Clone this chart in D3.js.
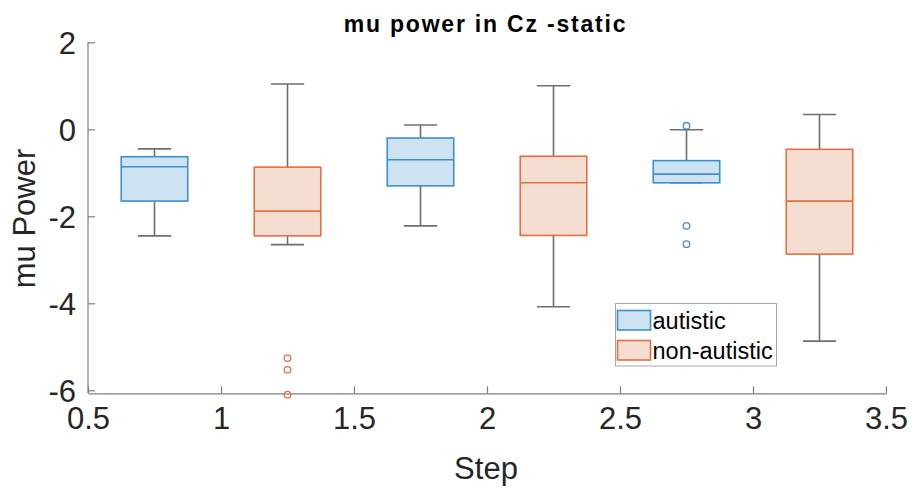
<!DOCTYPE html>
<html>
<head>
<meta charset="utf-8">
<script src="https://cdn.jsdelivr.net/npm/d3@7"></script>
<style>
  body { margin: 0; background: #fff; }
  svg { display: block; font-family: "Liberation Sans", Arial, sans-serif; }
</style>
</head>
<body>
<svg id="chart" width="914" height="493"></svg>
<script>
// ---- data ----
const steps = [1, 2, 3];
const groups = ["autistic", "non-autistic"];
// [lowerWhisker, Q1, median, Q3, upperWhisker] per step
const autisticStats = [
  [-2.45, -1.65, -0.86, -0.63, -0.45],
  [-2.22, -1.30, -0.70, -0.20, 0.10],
  [-1.23, -1.23, -1.03, -0.72, -0.01]
];
const nonAutisticStats = [
  [-2.65, -2.45, -1.88, -0.87, 1.04],
  [-4.08, -2.44, -1.23, -0.62, 1.00],
  [-4.87, -2.87, -1.65, -0.46, 0.34]
];
const autisticOutliers = [[], [], [0.08, -2.22, -2.64]];
const nonAutisticOutliers = [[-5.26, -5.53, -6.10], [], []];
const xTicks = [0.5, 1, 1.5, 2, 2.5, 3, 3.5];
const yTicks = [-6, -4, -2, 0, 2];
const titleText = "mu power in Cz -static";
const xLabel = "Step";
const yLabel = "mu Power";

// ---- layout / style ----
const colors = {
  "autistic": { edge: "#3b90d0", fill: "#cde3f1" },
  "non-autistic": { edge: "#e2703f", fill: "#f6ddd2" }
};
const groupOffset = { "autistic": -0.25, "non-autistic": 0.25 };
const boxWidth = 0.25;

const svg = d3.select("#chart");
const x = d3.scaleLinear().domain([0.5, 3.5]).range([88, 886]);
const y = d3.scaleLinear().domain([-6, 2]).range([390.3, 42.3]);
const yBottom = y.invert(393.3);

// axes
const xAxis = d3.axisBottom(x).tickValues(xTicks).tickSizeInner(-7).tickSizeOuter(0)
  .tickPadding(14).tickFormat(d => String(d));
const gx = svg.append("g").attr("transform", `translate(0,${y(yBottom)})`).call(xAxis);
const yAxis = d3.axisLeft(y).tickValues(yTicks).tickSizeInner(-7).tickSizeOuter(0)
  .tickPadding(12).tickFormat(d => String(d).replace("\u2212", "-"));
const gy = svg.append("g").attr("transform", `translate(${x(0.5)},0)`).call(yAxis);
gy.select(".domain").attr("d", `M0,${y(yBottom)}V${y(2)}`);
[gx, gy].forEach(g => {
  g.select(".domain").attr("stroke", "#7f7f7f").attr("stroke-width", 1.2);
  g.selectAll(".tick line").attr("stroke", "#7f7f7f").attr("stroke-width", 1.2);
  g.selectAll(".tick text").attr("fill", "#262626").style("font-size", "31px")
    .style("font-family", "'Liberation Sans', Arial, sans-serif");
});
gy.selectAll(".tick text").attr("dy", "0.36em");
gx.selectAll(".tick text").attr("dy", "0.71em");

// boxes
const series = [
  { name: "autistic", stats: autisticStats, outliers: autisticOutliers },
  { name: "non-autistic", stats: nonAutisticStats, outliers: nonAutisticOutliers }
];
const plot = svg.append("g");
series.forEach(s => {
  const c = colors[s.name];
  steps.forEach((st, i) => {
    const [lw, q1, med, q3, uw] = s.stats[i];
    const pos = st + groupOffset[s.name];
    const g = plot.append("g");
    const xl = x(pos - boxWidth / 2), xr = x(pos + boxWidth / 2);
    const cl = x(pos - boxWidth / 4), cr = x(pos + boxWidth / 4);
    // whiskers
    g.append("line").attr("x1", x(pos)).attr("x2", x(pos)).attr("y1", y(q3)).attr("y2", y(uw))
      .attr("stroke", "#6f6f6f").attr("stroke-width", 1.6);
    g.append("line").attr("x1", x(pos)).attr("x2", x(pos)).attr("y1", y(q1)).attr("y2", y(lw))
      .attr("stroke", "#6f6f6f").attr("stroke-width", 1.6);
    g.append("line").attr("x1", cl).attr("x2", cr).attr("y1", y(uw)).attr("y2", y(uw))
      .attr("stroke", "#6f6f6f").attr("stroke-width", 1.6);
    g.append("line").attr("x1", cl).attr("x2", cr).attr("y1", y(lw)).attr("y2", y(lw))
      .attr("stroke", "#6f6f6f").attr("stroke-width", 1.6);
    // box
    g.append("rect").attr("x", xl).attr("y", y(q3)).attr("width", xr - xl)
      .attr("height", y(q1) - y(q3)).attr("fill", c.fill).attr("stroke", c.edge).attr("stroke-width", 1.6);
    g.append("line").attr("x1", xl).attr("x2", xr).attr("y1", y(med)).attr("y2", y(med))
      .attr("stroke", c.edge).attr("stroke-width", 1.6);
    // outliers
    s.outliers[i].forEach(v => {
      g.append("circle").attr("cx", x(pos)).attr("cy", y(v)).attr("r", 3.3)
        .attr("fill", "none").attr("stroke", c.edge).attr("stroke-width", 1.3);
    });
  });
});

// title and labels
svg.append("text").attr("x", 485.5).attr("y", 32).attr("text-anchor", "middle")
  .style("font-size", "23px").style("font-weight", "bold").style("letter-spacing", "1.8px")
  .attr("fill", "#000").text(titleText);
svg.append("text").attr("x", 486).attr("y", 479).attr("text-anchor", "middle")
  .style("font-size", "31px").attr("fill", "#262626").text(xLabel);
svg.append("text").attr("transform", "translate(35,218.5) rotate(-90)").attr("text-anchor", "middle")
  .style("font-size", "31px").attr("fill", "#262626").text(yLabel);

// legend
const lg = svg.append("g");
lg.append("rect").attr("x", 615.5).attr("y", 303.5).attr("width", 161).attr("height", 62.5)
  .attr("fill", "#fff").attr("stroke", "#a6a6a6").attr("stroke-width", 1);
groups.forEach((gname, i) => {
  const c = colors[gname];
  const yy = 310.5 + i * 30;
  lg.append("rect").attr("x", 617.5).attr("y", yy).attr("width", 33).attr("height", 19.5)
    .attr("fill", c.fill).attr("stroke", c.edge).attr("stroke-width", 1.6);
  lg.append("text").attr("x", 652.5).attr("y", yy + 18.5).style("font-size", "23.5px")
    .attr("fill", "#000").text(gname);
});
</script>
</body>
</html>
